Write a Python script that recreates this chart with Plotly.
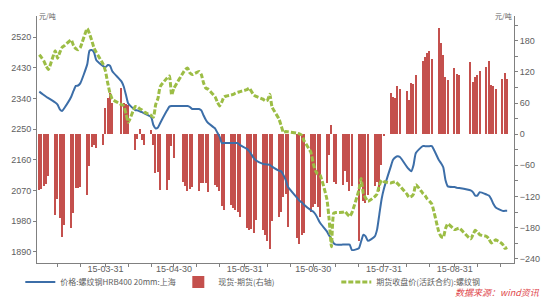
import pandas as pd
import plotly.graph_objects as go

holidays = ["2015-04-06", "2015-05-01", "2015-06-22", "2015-09-03", "2015-09-04"]
dates = [d for d in pd.bdate_range("2015-03-02", "2015-09-23") if d.strftime("%Y-%m-%d") not in holidays]

spot_price = [
    2360, 2355, 2350, 2345, 2341, 2328, 2322, 2308, 2303, 2312, 2345, 2362, 2377, 2378, 2385,
    2440, 2480, 2482, 2475, 2452, 2435, 2432,
    2438, 2436, 2420, 2390, 2375, 2350, 2325, 2306, 2305, 2302, 2300, 2296, 2285, 2262, 2252,
    2255, 2268, 2305, 2316, 2318, 2318,
    2318, 2318, 2318, 2315, 2309, 2309, 2305, 2290, 2277, 2268, 2252, 2240, 2228, 2209, 2209,
    2209, 2209, 2209, 2209, 2203,
    2192, 2185, 2175, 2165, 2158, 2148, 2147, 2146, 2145, 2140, 2128, 2126, 2115, 2100, 2080,
    2048, 2040, 2035, 2028, 2012, 2008,
    2000, 1988, 1975, 1950, 1938, 1928, 1915, 1911, 1911, 1911, 1911, 1911, 1895, 1900, 1920,
    1940, 1935, 1922, 1935, 1955, 2000, 2045, 2075,
    2140, 2160, 2167, 2170, 2168, 2140, 2132, 2126, 2145, 2180, 2200, 2200, 2200, 2200, 2200,
    2160, 2150, 2138, 2100, 2082, 2080,
    2078, 2077, 2070, 2065, 2055, 2055, 2065, 2058, 2055, 2045, 2030, 2020, 2010, 2010, 2010,
]

futures_close = [
    2468, 2460, 2450, 2435, 2425, 2480, 2458, 2475, 2490, 2495, 2512, 2495, 2486, 2483, 2490,
    2545, 2530, 2510, 2488, 2475, 2440, 2420,
    2385, 2355, 2338, 2322, 2318, 2295, 2270, 2316, 2315, 2310, 2306, 2300, 2290, 2285, 2322,
    2340, 2375, 2400, 2406, 2350, 2370,
    2415, 2425, 2429, 2415, 2410, 2419, 2410, 2385, 2370, 2367, 2345, 2330, 2318, 2330, 2345,
    2350, 2352, 2356, 2358, 2360,
    2366, 2370, 2360, 2350, 2346, 2338, 2333, 2335, 2352, 2315, 2280, 2260, 2240, 2243, 2242,
    2238, 2236, 2232, 2216, 2182, 2150,
    2128, 2118, 2115, 2045, 1985, 1905, 2003, 2005, 2006, 2008, 2000, 1994, 2005, 2070, 2105,
    2060, 2048, 2038, 2052, 2060, 2085, 2100, 2096,
    2092, 2094, 2096, 2090, 2083, 2060, 2050, 2052, 2060, 2087, 2062, 2055, 2045, 2038, 2030,
    1950, 1935, 1932, 1958, 1972, 1955,
    1957, 1959, 1928, 1940, 1953, 1948, 1940, 1935, 1928, 1916, 1920, 1925, 1912, 1900, 1903,
]

basis = [
    -108, -106, -100, -96, -80, -155, -125, -162, -197, -175, -181, -152, -104, -104, -102,
    -117, -62, -25, -20, -27, -21, 50,
    70, 80, 60, 88, 60, 58, 57, -30, -10, 10, -12, -20, 8, -21, -75,
    -72, -107, -107, -88, -22, -46,
    -92, -100, -110, -105, -102, -110, -94, -94, -94, -112, -98, -101, -110, -139, -145,
    -136, -143, -145, -150, -160,
    -180, -185, -183, -190, -165, -184, -194, -205, -222, -168, -160, -149, -120, -115, -178,
    -200, -212, -195, -190, -150, -140,
    -135, -140, -160, -94, -40, 18, -92, -95, -98, -70, -92, -110, -100, -205, -90,
    -128, -133, -118, -100, -92, -110, -60, -3,
    80, 72, 70, 93, 87, 84, 66, 98, 97, 114, 140, 149, 156, 161, 144,
    205, 176, 152, 110, 104, 127,
    116, 114, 138, 100, 110, 113, 122, 130, 140, 95, 92, 87, 106, 117, 106,
]

month_ends = ["2015-03-31", "2015-04-30", "2015-05-31", "2015-06-30", "2015-07-31", "2015-08-31"]
month_labels = ["15-03-31", "15-04-30", "15-05-31", "15-06-30", "15-07-31", "15-08-31"]
minor_dates = ["2015-03-10", "2015-03-20", "2015-04-10", "2015-04-20", "2015-05-10", "2015-05-20",
               "2015-06-10", "2015-06-20", "2015-07-10", "2015-07-20", "2015-08-10", "2015-08-20",
               "2015-09-10", "2015-09-20"]
left_ticks = [1890, 1980, 2070, 2160, 2250, 2340, 2430, 2520]
right_ticks = [-240, -180, -120, -60, 0, 60, 120, 180]
right_minor = [-210, -150, -90, -30, 30, 90, 150, 210]

names = ["价格:螺纹钢HRB400 20mm:上海", "现货-期货(右轴)", "期货收盘价(活跃合约):螺纹钢"]

FONT = "Noto Sans CJK SC, Liberation Sans, sans-serif"
AXIS_COLOR = "#808080"
TXT = "#606060"

fig = go.Figure()
fig.add_trace(go.Scatter(x=dates, y=spot_price, name=names[0], yaxis="y2", mode="lines",
                         line=dict(color="#3C6EA8", width=2, shape="spline", smoothing=0.5)))
fig.add_trace(go.Bar(x=dates, y=basis, name=names[1], yaxis="y",
                     width=0.6 * 86400000, marker=dict(color="#C4504D", line=dict(width=0))))
fig.add_trace(go.Scatter(x=dates, y=futures_close, name=names[2], yaxis="y2", mode="lines",
                         line=dict(color="#9CBD45", width=3, dash="5px,2px", shape="spline", smoothing=0.5)))

fig.update_layout(
    width=550, height=300,
    margin=dict(l=37, r=36, t=16, b=37, autoexpand=False),
    paper_bgcolor="white", plot_bgcolor="white",
    font=dict(family=FONT, size=9, color=TXT),
    bargap=0,
    xaxis=dict(type="date", range=["2015-03-01", "2015-09-26"], showline=True, linecolor=AXIS_COLOR,
               linewidth=1, ticks="outside", ticklen=3, tickcolor=AXIS_COLOR,
               tickmode="array", tickvals=month_ends, ticktext=month_labels,
               tickfont=dict(family="Liberation Sans", size=9, color=TXT),
               ticklabelstandoff=-6,
               showgrid=False, zeroline=False,
               minor=dict(tickmode="array", tickvals=minor_dates, ticks="outside", ticklen=3,
                          tickcolor=AXIS_COLOR, showgrid=False)),
    yaxis=dict(side="right", range=[-248, 227.5], tickmode="array", tickvals=right_ticks,
               showline=True, linecolor=AXIS_COLOR, linewidth=1, ticks="outside", ticklen=3,
               tickcolor=AXIS_COLOR, showgrid=False, zeroline=False,
               tickfont=dict(family="Liberation Sans", size=9, color=TXT),
               minor=dict(tickmode="array", tickvals=right_minor, ticks="outside", ticklen=3,
                          tickcolor=AXIS_COLOR, showgrid=False)),
    yaxis2=dict(overlaying="y", side="left", range=[1857, 2582], tickmode="array", tickvals=left_ticks,
                showline=True, linecolor=AXIS_COLOR, linewidth=1, ticks="outside", ticklen=3,
                tickcolor=AXIS_COLOR, showgrid=False, zeroline=False,
                tickfont=dict(family="Liberation Sans", size=9, color=TXT)),
    legend=dict(orientation="h", x=-0.035, xanchor="left", y=-0.077, yanchor="middle",
                font=dict(family=FONT, size=8, color=TXT), bgcolor="rgba(0,0,0,0)",
                itemwidth=30, entrywidth=113, entrywidthmode="pixels", traceorder="normal"),
    annotations=[
        dict(text="元/吨", x=0.0, y=1.0, xref="paper", yref="paper", xanchor="left", yanchor="middle",
             showarrow=False, font=dict(family=FONT, size=7, color=TXT)),
        dict(text="元/吨", x=1.0, y=1.0, xref="paper", yref="paper", xanchor="right", yanchor="middle",
             showarrow=False, font=dict(family=FONT, size=7, color=TXT)),
        dict(text="数据来源：wind资讯", x=0.873, y=-0.12, xref="paper", yref="paper",
             xanchor="left", yanchor="middle", showarrow=False,
             font=dict(family=FONT, size=9, color="#E0474C", style="italic")),
    ],
)

fig.write_html("out.html")
